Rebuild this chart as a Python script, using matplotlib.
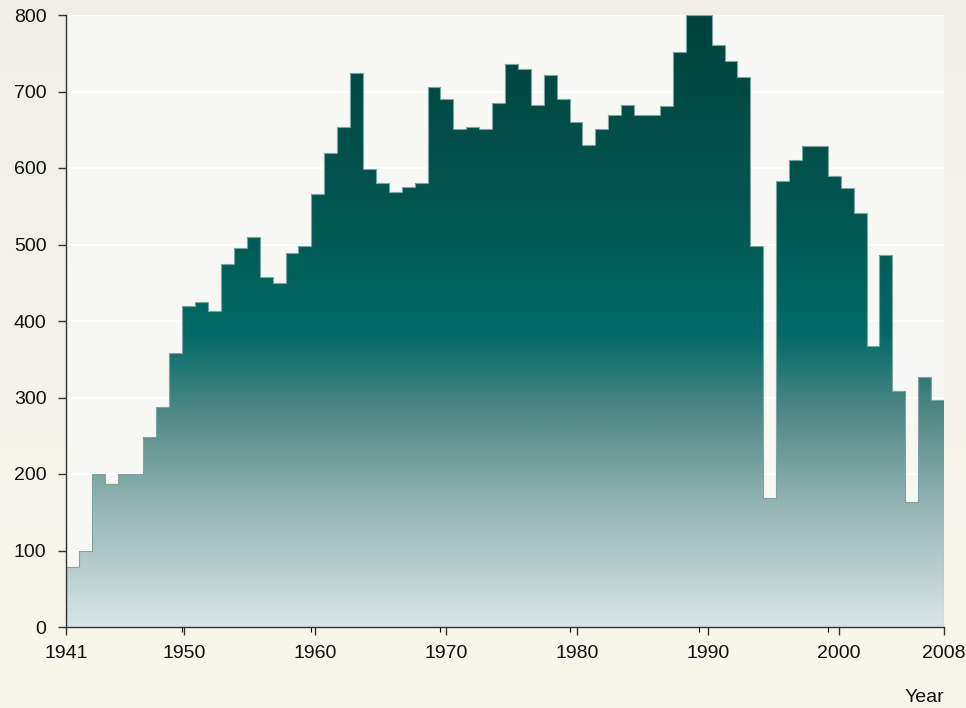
import numpy as np
import matplotlib
matplotlib.use("Agg")
from matplotlib import pyplot as plt
from matplotlib.colors import LinearSegmentedColormap

plt.rcParams["font.family"] = ["Liberation Sans", "DejaVu Sans"]

# yearly values, 1941 - 2008
years = np.arange(1941, 2009)
values = [
    78, 100, 200, 187, 200, 200, 248, 288, 358,                 # 1941-1949
    419, 425, 413, 474, 495, 510, 458, 450, 489, 498,           # 1950s
    566, 620, 654, 724, 599, 581, 568, 575, 581, 706,           # 1960s
    690, 651, 654, 651, 685, 736, 730, 682, 721, 690,           # 1970s
    660, 630, 651, 669, 682, 669, 669, 681, 752, 800,           # 1980s
    800, 761, 740, 719, 498, 169, 583, 611, 629, 629,           # 1990s
    590, 574, 541, 367, 486, 309, 163, 327, 297,                # 2000-2008
]
year_ticks = [1941, 1950, 1960, 1970, 1980, 1990, 2000, 2008]
y_ticks = [0, 100, 200, 300, 400, 500, 600, 700, 800]

W, H = 966, 708
fig = plt.figure(figsize=(W / 100, H / 100), dpi=100)

# page background: soft vertical gradient
bg = fig.add_axes([0, 0, 1, 1], zorder=-10)
bg_cmap = LinearSegmentedColormap.from_list("bg", ["#f9f7eb", "#efefe8"])
bg.imshow(np.linspace(0, 1, 256).reshape(-1, 1), cmap=bg_cmap, aspect="auto",
          origin="lower", extent=[0, 1, 0, 1])
bg.set_axis_off()

left, right, bottom, top = 66, 944, 627, 15
ax = fig.add_axes([left / W, (H - bottom) / H, (right - left) / W, (bottom - top) / H])
ax.set_facecolor("#f7f7f3")

edges = np.append(years, years[-1] + 1)
ax.set_xlim(edges[0], edges[-1])
ax.set_ylim(0, 800)

# gradient fill clipped to the step outline
patch = ax.stairs(values, edges, fill=True, facecolor="none", edgecolor="none", baseline=0)
fill_cmap = LinearSegmentedColormap.from_list(
    "fill",
    [(0.0, "#d8e5e6"), (0.2, "#92b5b2"), (0.36, "#4a8682"),
     (0.48, "#006a66"), (0.7, "#02554f"), (1.0, "#00423c")],
)
im = ax.imshow(np.linspace(0, 1, 512).reshape(-1, 1), cmap=fill_cmap, aspect="auto",
               origin="lower", extent=[edges[0], edges[-1], 0, 800], zorder=2)
im.set_clip_path(patch)
ax.stairs(values, edges, color="#7ea3a0", linewidth=0.8, baseline=0, zorder=3)

ax.set_yticks(y_ticks)
ax.yaxis.grid(True, color="white", linewidth=1.4)
ax.set_axisbelow(True)
ax.tick_params(axis="y", direction="out", length=6, width=1, color="#333333",
               labelsize=14, pad=8, labelcolor="#111111")
ax.tick_params(axis="x", bottom=False, labelbottom=False)
for s in ["top", "right"]:
    ax.spines[s].set_visible(False)
for s in ["left", "bottom"]:
    ax.spines[s].set_color("#333333")
    ax.spines[s].set_linewidth(1.0)
    ax.spines[s].set_zorder(5)

# year scale runs 1941..2008 across the full width
ax2 = ax.twiny()
ax2.set_xlim(year_ticks[0], year_ticks[-1])
ax2.set_xticks(year_ticks)
ax2.xaxis.set_ticks_position("bottom")
ax2.xaxis.set_label_position("bottom")
ax2.tick_params(axis="x", direction="out", length=6, width=1, color="#333333",
                labelsize=14, pad=7, labelcolor="#111111")
for s in ax2.spines.values():
    s.set_visible(False)

fig.text(right / W, (H - 702) / H, "Year", ha="right", va="baseline",
         fontsize=14, color="#111111")

fig.savefig("out.png", dpi=100, facecolor=fig.get_facecolor())
